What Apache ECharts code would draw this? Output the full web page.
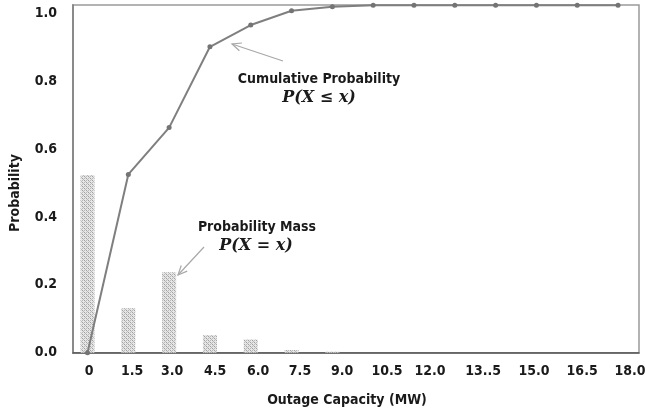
<!DOCTYPE html>
<html>
<head>
<meta charset="utf-8">
<script src="https://cdn.jsdelivr.net/npm/echarts@6/dist/echarts.min.js"></script>
<style>
html,body{margin:0;padding:0;background:#fff;}
#chart{width:645px;height:416px;}
</style>
</head>
<body>
<div id="chart"></div>
<script>
// ---- data ----
var capacity = [0, 1.5, 3.0, 4.5, 6.0, 7.5, 9.0, 10.5, 12.0, 13.5, 15.0, 16.5, 18.0, 19.5];
var cumulative = [0, 0.525, 0.663, 0.901, 0.965, 1.007, 1.019, 1.023, 1.023, 1.023, 1.023, 1.023, 1.023, 1.023];
var massCapacity = [0, 1.5, 3.0, 4.5, 6.0, 7.5, 9.0];
var mass = [0.523, 0.131, 0.237, 0.052, 0.039, 0.008, 0.003];
var tickLabels = ['0', '1.5', '3.0', '4.5', '6.0', '7.5', '9.0', '10.5', '12.0', '13..5', '15.0', '16.5', '18.0'];
var yTicks = [0, 0.2, 0.4, 0.6, 0.8, 1.0];

// where the reference draws each x tick label (axis units)
var tickLabelAt = [0.06, 1.64, 3.11, 4.69, 6.27, 7.81, 9.36, 11.01, 12.59, 14.54, 16.41, 18.18, 19.94];

var FONT = '"DejaVu Sans Condensed", "DejaVu Sans", sans-serif';

// hatch pattern for bars
var pat = document.createElement('canvas');
pat.width = 4; pat.height = 4;
var pc = pat.getContext('2d');
pc.fillStyle = '#e6e6e6'; pc.fillRect(0, 0, 4, 4);
pc.fillStyle = '#a0a0a0';
pc.fillRect(0, 0, 1, 1); pc.fillRect(2, 2, 1, 1);
pc.fillStyle = '#bababa';
pc.fillRect(2, 0, 1, 1); pc.fillRect(0, 2, 1, 1);
pc.fillRect(1, 1, 1, 1); pc.fillRect(3, 3, 1, 1);

function arrow(x1, y1, x2, y2) {
  var dx = x2 - x1, dy = y2 - y1, L = Math.sqrt(dx * dx + dy * dy);
  var ux = dx / L, uy = dy / L, h = 10, a = 0.42;
  var c = Math.cos(a), s = Math.sin(a);
  var p1 = [x2 - h * (ux * c - uy * s), y2 - h * (uy * c + ux * s)];
  var p2 = [x2 - h * (ux * c + uy * s), y2 - h * (uy * c - ux * s)];
  return [
    {type: 'line', shape: {x1: x1, y1: y1, x2: x2, y2: y2}, style: {stroke: '#a8a8a8', lineWidth: 1.2}},
    {type: 'polyline', shape: {points: [p1, [x2, y2], p2]}, style: {stroke: '#a8a8a8', lineWidth: 1.2, fill: null}}
  ];
}

var chart = echarts.init(document.getElementById('chart'), null, {renderer: 'canvas'});
var xMin = -0.533, xMax = 20.27;
var option = {
  animation: false,
  backgroundColor: '#ffffff',
  grid: {left: 73, top: 5, width: 566, bottom: 63.3, containLabel: false, outerBoundsMode: 'none',
         show: true, borderColor: '#9a9a9a', borderWidth: 1.5, backgroundColor: 'transparent'},
  xAxis: [{
    type: 'value', min: xMin, max: xMax,
    axisLine: {show: true, onZero: false, lineStyle: {color: '#555', width: 1.5}},
    axisTick: {show: false}, axisLabel: {show: false}, splitLine: {show: false}
  }, {
    type: 'value', min: xMin, max: xMax, position: 'bottom',
    axisLine: {show: false}, axisTick: {show: false}, splitLine: {show: false},
    axisLabel: {
      customValues: tickLabelAt,
      margin: 12,
      color: '#1a1a1a', fontWeight: 'bold', fontSize: 14, fontFamily: FONT,
      formatter: function (v) {
        var i = tickLabelAt.indexOf(v);
        return i >= 0 ? tickLabels[i] : '';
      }
    }
  }],
  yAxis: {
    type: 'value', min: 0, max: 1.024, interval: 0.2,
    axisLine: {show: true, onZero: false, lineStyle: {color: '#8a8a8a', width: 2}},
    axisTick: {show: false}, splitLine: {show: false},
    axisLabel: {
      showMaxLabel: false, margin: 16,
      color: '#1a1a1a', fontWeight: 'bold', fontSize: 14, fontFamily: FONT,
      formatter: function (v) {
        for (var i = 0; i < yTicks.length; i++) {
          if (Math.abs(v - yTicks[i]) < 1e-6) return yTicks[i].toFixed(1);
        }
        return '';
      }
    }
  },
  series: [{
    type: 'bar',
    data: massCapacity.map(function (c, i) { return [c, mass[i]]; }),
    barWidth: 14,
    itemStyle: {color: {image: pat, repeat: 'repeat'}},
    z: 2
  }, {
    type: 'line',
    data: capacity.map(function (c, i) { return [c, cumulative[i]]; }),
    symbol: 'circle', symbolSize: 5, showSymbol: true, showAllSymbol: true, clip: false,
    lineStyle: {color: '#7f7f7f', width: 2},
    itemStyle: {color: '#747474'},
    z: 3
  }],
  graphic: [
    {type: 'text', x: 347, y: 400, style: {text: 'Outage Capacity (MW)', font: 'bold 14px ' + FONT, fill: '#1a1a1a', align: 'center', verticalAlign: 'middle'}},
    {type: 'text', x: 15, y: 193, rotation: Math.PI / 2, style: {text: 'Probability', font: 'bold 14px ' + FONT, fill: '#1a1a1a', align: 'center', verticalAlign: 'middle'}},
    {type: 'text', x: 319, y: 79, style: {text: 'Cumulative Probability', font: 'bold 14px ' + FONT, fill: '#1a1a1a', align: 'center', verticalAlign: 'middle'}},
    {type: 'text', x: 319, y: 98, style: {text: 'P(X ≤ x)', font: 'italic bold 16px "DejaVu Serif", "Liberation Serif", serif', fill: '#1a1a1a', align: 'center', verticalAlign: 'middle'}},
    {type: 'text', x: 257, y: 227, style: {text: 'Probability Mass', font: 'bold 14px ' + FONT, fill: '#1a1a1a', align: 'center', verticalAlign: 'middle'}},
    {type: 'text', x: 256, y: 246, style: {text: 'P(X = x)', font: 'italic bold 16px "DejaVu Serif", "Liberation Serif", serif', fill: '#1a1a1a', align: 'center', verticalAlign: 'middle'}}
  ].concat(arrow(283, 61, 232, 44)).concat(arrow(204, 247, 178, 275))
};
chart.setOption(option);
</script>
</body>
</html>
